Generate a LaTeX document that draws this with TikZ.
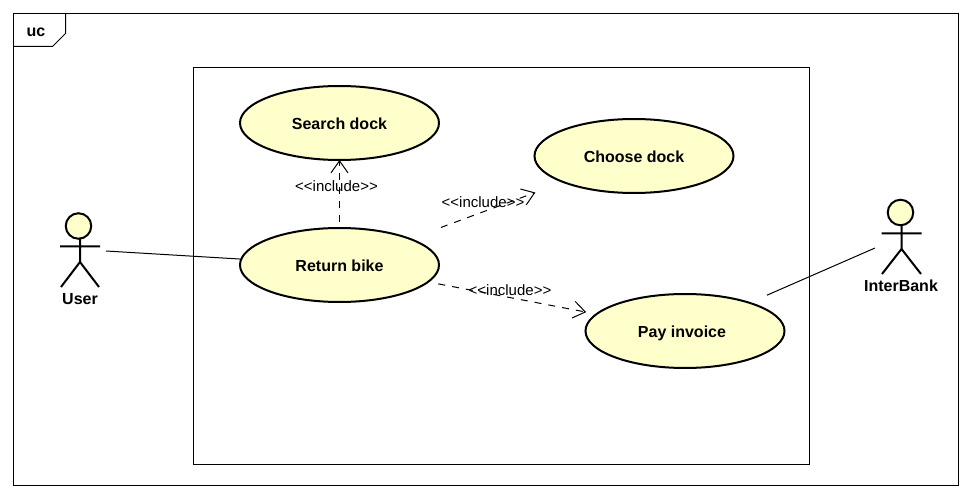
\documentclass[tikz,border=0pt]{standalone}
\usepackage{fontspec}
\setmainfont{Liberation Sans}
\usetikzlibrary{arrows.meta,shapes.geometric}
\definecolor{ucfill}{HTML}{FFFFCC}
\tikzset{
  frameline/.style={draw=black,line width=1pt},
  usecase/.style={ellipse,draw=black,line width=2pt,fill=ucfill,minimum width=199pt,minimum height=74pt,inner sep=0pt,outer sep=0pt,text height=13.7pt,text depth=0pt,font=\fontsize{16}{16}\selectfont\bfseries},
  actorhead/.style={circle,draw=black,line width=2pt,fill=ucfill,minimum size=25.5pt,inner sep=0pt,outer sep=0pt},
  actorline/.style={draw=black,line width=2pt},
  actorname/.style={inner sep=0pt,font=\fontsize{16}{16}\selectfont\bfseries},
  assoc/.style={draw=black,line width=1pt},
  incl/.style={draw=black,line width=1pt,dash pattern=on 7pt off 7pt,-{Straight Barb[length=12pt,width=17pt,line width=1pt]}},
  incllabel/.style={inner sep=0pt,font=\fontsize{15}{15}\selectfont},
}
\begin{document}
\begin{tikzpicture}[x=1pt,y=-1pt]
\useasboundingbox (0,0) rectangle (972,497);
\fill[white] (0,0) rectangle (972,497);
% frame
\draw[frameline] (13.5,13.5) rectangle (958.5,485);
\draw[frameline] (13.5,46.5) -- (52.5,46.5) -- (65.5,33.5) -- (65.5,13.5);
\node[inner sep=0pt,font=\fontsize{16}{16}\selectfont\bfseries] (tab) at (36,32) {uc};
% system boundary
\draw[frameline] (193.5,67.5) rectangle (809.5,464.5);
% use cases
\node[usecase] (search) at (339.5,123) {Search dock};
\node[usecase] (choose) at (634,156) {Choose dock};
\node[usecase] (ret) at (339.5,265) {Return bike};
\node[usecase] (pay) at (685,331) {\kern-6pt Pay invoice};
% actor User
\node[actorhead] (userhead) at (78.5,226) {};
\coordinate (userneck) at (80,238);
\coordinate (userhip) at (80,262);
\coordinate (userarmL) at (60,246.5);
\coordinate (userarmR) at (100,246.5);
\coordinate (userlegL) at (61,287);
\coordinate (userlegR) at (99,287);
\draw[actorline] (userneck) -- (userhip) (userarmL) -- (userarmR) (userlegL) -- (userhip) -- (userlegR);
\node[actorname] (user) at (80,299) {User};
% actor InterBank
\node[actorhead] (bankhead) at (900.5,212.5) {};
\coordinate (bankneck) at (901.5,225);
\coordinate (bankhip) at (901.5,249);
\coordinate (bankarmL) at (881.5,233.5);
\coordinate (bankarmR) at (921.5,233.5);
\coordinate (banklegL) at (882,274);
\coordinate (banklegR) at (921,274);
\draw[actorline] (bankneck) -- (bankhip) (bankarmL) -- (bankarmR) (banklegL) -- (bankhip) -- (banklegR);
\node[actorname] (bank) at (901,286) {InterBank};
% associations
\coordinate (userend) at (106,251);
\coordinate (bankend) at (875,248);
\draw[assoc] (userend) -- (ret);
\draw[assoc,shorten >=19pt] (bankend) -- (pay);
% includes
\draw[incl,shorten <=6pt] (ret) -- (search);
\draw[incl,shorten <=33pt,shorten >=30pt] (ret) -- (choose);
\draw[incl,shorten <=10.5pt,shorten >=10.5pt] (ret) -- (pay);
\node[incllabel] (l1) at (336.5,186) {<{}<include>{}>};
\node[incllabel] (l2) at (483,202) {<{}<include>{}>};
\node[incllabel] (l3) at (510,290) {<{}<include>{}>};
\end{tikzpicture}
\end{document}
